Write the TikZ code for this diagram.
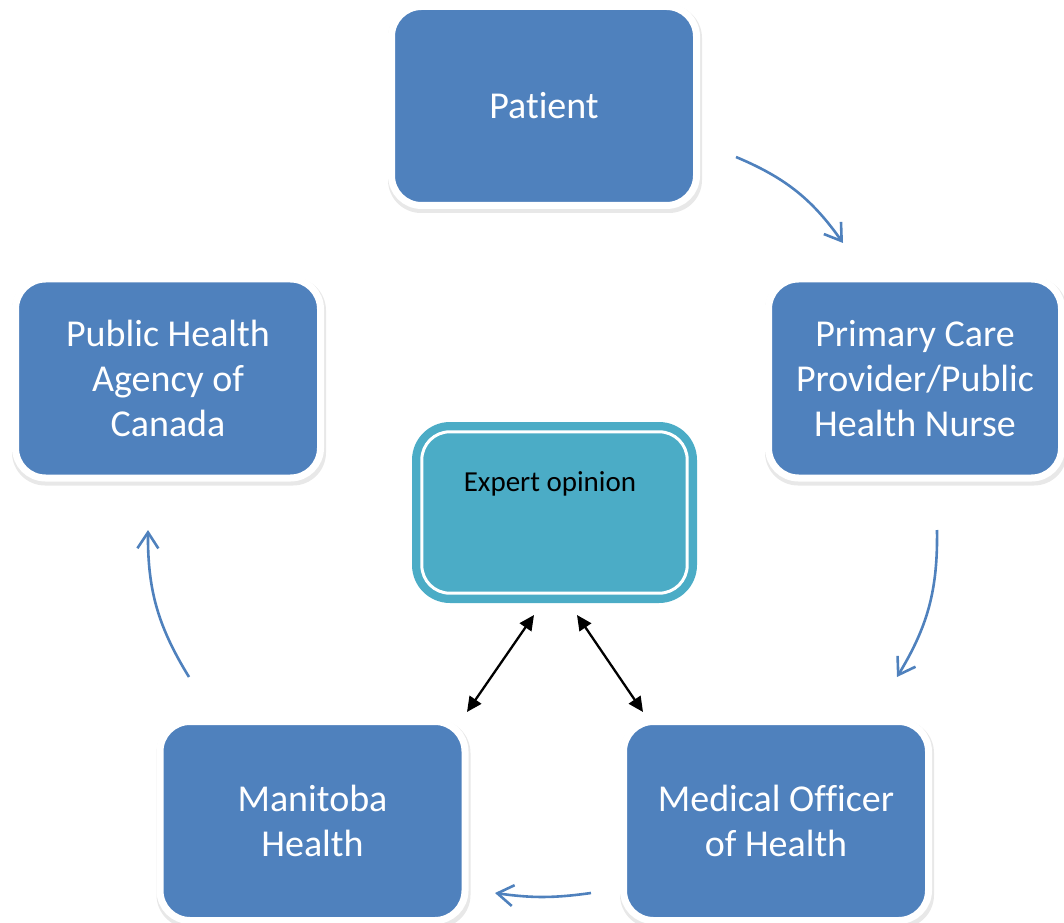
\documentclass[tikz,border=0pt]{standalone}
\usepackage{fontspec}
\setmainfont{Carlito}[Ligatures={NoCommon,NoRare,NoContextual}]
\usetikzlibrary{arrows.meta,calc}
\definecolor{boxblue}{HTML}{4F81BD}
\definecolor{tealbox}{HTML}{4BACC6}
\begin{document}
\begin{tikzpicture}[x=1pt,y=1pt,
  stepbox/.style={rectangle, rounded corners=30pt, fill=boxblue, draw=white, line width=7pt,
    minimum width=305pt, minimum height=199pt, inner sep=0pt, text=white, align=center,
    font=\fontsize{38}{45}\selectfont},
  halo/.style={rectangle, rounded corners=33pt, fill=black!9, draw=none,
    minimum width=314pt, minimum height=208pt, inner sep=0pt},
  flow/.style={draw=boxblue, line width=2.6pt, -{Straight Barb[length=16pt,width=21pt,line width=2.6pt]}},
  link/.style={draw=black, line width=2.3pt, {Triangle[length=15pt,width=14pt]}-{Triangle[length=15pt,width=14pt]}}
]
\useasboundingbox (0,0) rectangle (1064,922);
% halos (soft shadow)
\node[halo] (hp) at (545,813) {};
\node[halo] (hc) at (169,540.5) {};
\node[halo, minimum width=302pt] (hpc) at (916,540.5) {};
\node[halo] (hm) at (313.5,98) {};
\node[halo] (hmo) at (777,98) {};
% boxes
\node[stepbox] (patient) at (544,816) {Pat\kern0pt ient};
\node[stepbox] (phac) at (168,543.5) {Public Health\\Agency of\\Canada};
\node[stepbox, minimum width=293pt] (pcp) at (915,543.5) {Primary Care\\Provider/Public\\Health Nurse};
\node[stepbox] (mb) at (312.5,101) {Manitoba\\Health};
\node[stepbox] (moh) at (776,101) {Medical Officer\\of Health};
% expert opinion
\node[rectangle, rounded corners=38pt, fill=tealbox, minimum width=285pt, minimum height=181pt, inner sep=0pt] (ex) at (554.5,409.5) {};
\draw[white, line width=3pt, rounded corners=28pt] ($(ex.south west)+(10,10)$) rectangle ($(ex.north east)-(10,10)$);
\node[font=\fontsize{29}{34}\selectfont, text=black, inner sep=0pt] (extext) at (550,438) {Expert opinion};
% flow arrow endpoints
\coordinate (a1s) at (736,765); \coordinate (a1e) at (843,679);
\coordinate (a2s) at (937,392); \coordinate (a2e) at (897,245);
\coordinate (a3s) at (591,29);  \coordinate (a3e) at (495,29);
\coordinate (a4s) at (189,245); \coordinate (a4e) at (148,392);
\draw[flow] (a1s) to[bend left=16] (a1e);
\draw[flow] (a2s) to[bend left=16] (a2e);
\draw[flow] (a3s) to[bend left=8] (a3e);
\draw[flow] (a4s) to[bend left=16] (a4e);
% expert links
\coordinate (l1s) at (534,307); \coordinate (l1e) at (467,210);
\coordinate (l2s) at (577,307); \coordinate (l2e) at (643,210);
\draw[link] (l1s) -- (l1e);
\draw[link] (l2s) -- (l2e);
\end{tikzpicture}
\end{document}
